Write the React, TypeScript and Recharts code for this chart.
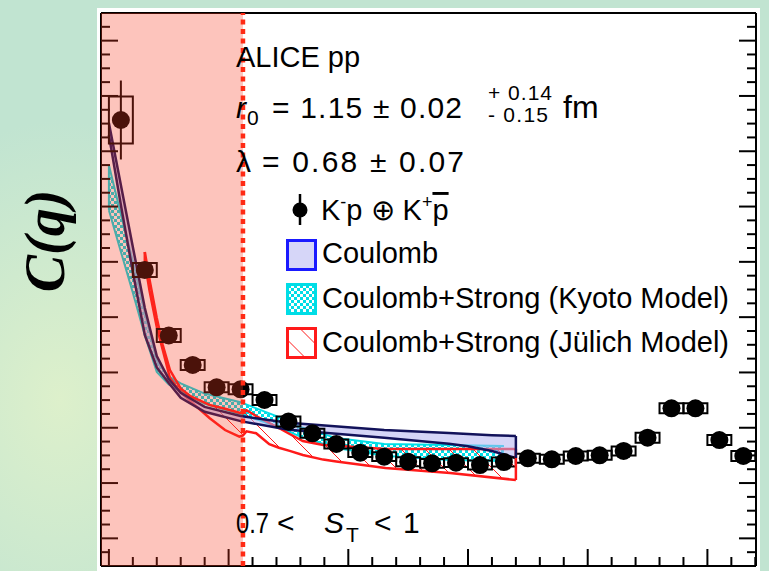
import React from "react";
import {
  ComposedChart,
  Area,
  Line,
  Scatter,
  XAxis,
  YAxis,
  ErrorBar,
  ReferenceArea,
  ReferenceLine,
} from "recharts";

// measured points, bins of 10 in q
const qBins = [5, 15, 25, 35, 45, 55, 65, 75, 85, 95, 105, 115, 125, 135, 145, 155, 165, 175, 185, 195, 205, 215, 225, 235, 245, 255, 265];
const cValues = [1.6565, 1.3853, 1.2668, 1.2135, 1.1731, 1.1695, 1.1502, 1.1113, 1.09, 1.0706, 1.0549, 1.0477, 1.0386, 1.0357, 1.0368, 1.0326, 1.038, 1.0448, 1.043, 1.0489, 1.0502, 1.058, 1.082, 1.1352, 1.1352, 1.0778, 1.0489];
const statErr = [0.0714, 0.012, 0.01, 0.008, 0.008, 0.008, 0.007, 0.007, 0.007, 0.006, 0.006, 0.006, 0.006, 0.006, 0.006, 0.006, 0.006, 0.006, 0.006, 0.006, 0.006, 0.006, 0.007, 0.008, 0.008, 0.008, 0.008];
const systErr = [0.0425, 0.0127, 0.0118, 0.009, 0.009, 0.009, 0.009, 0.009, 0.008, 0.008, 0.008, 0.008, 0.008, 0.008, 0.008, 0.008, 0.008, 0.008, 0.008, 0.008, 0.008, 0.008, 0.009, 0.009, 0.009, 0.009, 0.009];

// model bands
const coulombQ = [0, 5, 10, 15, 20, 25, 30, 40, 55, 75, 115, 142, 150, 160, 170];
const coulombHi = [1.6511, 1.539, 1.4269, 1.3165, 1.2297, 1.1882, 1.1632, 1.1377, 1.1211, 1.109, 1.0961, 1.0905, 1.0887, 1.0865, 1.0851];
const coulombLo = [1.6294, 1.5028, 1.3816, 1.2677, 1.209, 1.1809, 1.1542, 1.1288, 1.112, 1.0963, 1.0818, 1.0712, 1.0665, 1.058, 1.0453];

const kyotoQ = [0, 5, 10, 15, 20, 25, 30, 40, 55, 70, 80, 95, 115, 142, 165];
const kyotoHi = [1.5751, 1.4856, 1.4012, 1.308, 1.2216, 1.1927, 1.1802, 1.1618, 1.146, 1.1211, 1.1015, 1.0813, 1.0708, 1.0688, 1.067];
const kyotoLo = [1.4932, 1.4184, 1.344, 1.267, 1.201, 1.1784, 1.1668, 1.1433, 1.1249, 1.1028, 1.084, 1.0634, 1.0493, 1.0417, 1.0399];

const julichQ = [15, 17, 20, 22.5, 25.5, 30, 34, 42, 48.5, 54.5, 56, 57.5, 61.5, 67, 71, 75.5, 81, 89.5, 95, 115.5, 142.5, 170];
const julichHi = [1.4178, 1.3672, 1.2985, 1.2496, 1.2044, 1.1708, 1.1571, 1.1413, 1.1343, 1.127, 1.1258, 1.1316, 1.1212, 1.1086, 1.0995, 1.0887, 1.076, 1.0688, 1.0674, 1.0616, 1.0616, 1.0616];
const julichLo = [1.3997, 1.3473, 1.2822, 1.2406, 1.19, 1.1639, 1.1484, 1.1176, 1.0959, 1.0838, 1.086, 1.0936, 1.0901, 1.0703, 1.0639, 1.0581, 1.0507, 1.0424, 1.039, 1.0272, 1.0182, 1.0055];

const threshold = 56;
const xDomain = [-3.3, 270.3];
const yDomain = [0.85, 1.85];
const xTicks = [0, 10, 20, 30, 40, 50, 60, 70, 80, 90, 100, 110, 120, 130, 140, 150, 160, 170, 180, 190, 200, 210, 220, 230, 240, 250, 260, 270];
const yTicks = [0.85, 0.875, 0.9, 0.925, 0.95, 0.975, 1.0, 1.025, 1.05, 1.075, 1.1, 1.125, 1.15, 1.175, 1.2, 1.225, 1.25, 1.275, 1.3, 1.325, 1.35, 1.375, 1.4, 1.425, 1.45, 1.475, 1.5, 1.525, 1.55, 1.575, 1.6, 1.625, 1.65, 1.675, 1.7, 1.725, 1.75, 1.775, 1.8, 1.825, 1.85];

const points = qBins.map((q, i) => ({ q, c: cValues[i], stat: statErr[i] }));
const band = (qs: number[], lo: number[], hi: number[]) =>
  qs.map((q, i) => ({ q, band: [lo[i], hi[i]] }));
const edge = (q: number, lo: number, hi: number) => [
  { q, v: lo },
  { q, v: hi },
];

const coulombData = band(coulombQ, coulombLo, coulombHi);
const kyotoData = band(kyotoQ, kyotoLo, kyotoHi);
const julichData = band(julichQ, julichLo, julichHi);

const NAVY = "#12125a";
const CYAN = "#00dde6";
const RED = "#ff1a1a";

function frameTick(side: string, every: number) {
  return (props: any) => {
    const { x, y, payload } = props;
    const r = payload.value / every;
    const len = Math.abs(r - Math.round(r)) < 1e-6 ? 17 : 9;
    let x2 = x;
    let y2 = y;
    if (side === "b") y2 = y - len;
    if (side === "t") y2 = y + len;
    if (side === "l") x2 = x + len;
    if (side === "r") x2 = x - len;
    return <line x1={x} y1={y} x2={x2} y2={y2} stroke="#000" strokeWidth={2} />;
  };
}

const axisCommon = {
  allowDataOverflow: true,
  interval: 0 as const,
  tickSize: 0,
  tickMargin: 0,
  tickLine: false,
  axisLine: { stroke: "#000", strokeWidth: 2 },
};

const txt = { fontFamily: "'Liberation Sans', Arial, sans-serif", fill: "#000" };

export default function App() {
  return (
    <div
      style={{
        position: "absolute",
        left: 0,
        top: 0,
        width: 769,
        height: 571,
        overflow: "hidden",
        background:
          "radial-gradient(ellipse 200px 280px at 60px 400px, #ddf0cb 0%, #c1e4d1 100%)",
      }}
    >
      <div style={{ position: "absolute", left: 97, top: 8, width: 663, height: 563, background: "#fff" }} />
      <div style={{ position: "absolute", left: 0, top: 0 }}>
        <ComposedChart width={769} height={571} margin={{ top: 12, right: 12, bottom: 4, left: 100 }}>
          <defs>
            <pattern id="chk" width="6" height="6" patternUnits="userSpaceOnUse">
              <rect width="6" height="6" fill={CYAN} />
              <rect x="0" y="0" width="3" height="3" fill="#fff" />
              <rect x="3" y="3" width="3" height="3" fill="#fff" />
            </pattern>
            <pattern id="hat" width="24" height="24" patternUnits="userSpaceOnUse">
              <line x1="0" y1="0" x2="24" y2="24" stroke={RED} strokeWidth="1" />
            </pattern>
          </defs>
          <XAxis xAxisId="b" dataKey="q" type="number" domain={xDomain} ticks={xTicks} height={1} tick={frameTick("b", 50)} {...axisCommon} />
          <XAxis xAxisId="t" orientation="top" type="number" domain={xDomain} ticks={xTicks} height={1} tick={frameTick("t", 50)} {...axisCommon} />
          <YAxis yAxisId="l" type="number" domain={yDomain} ticks={yTicks} width={1} tick={frameTick("l", 0.1)} {...axisCommon} />
          <YAxis yAxisId="r" orientation="right" type="number" domain={yDomain} ticks={yTicks} width={1} tick={frameTick("r", 0.1)} {...axisCommon} />

          <Area
            xAxisId="b"
            yAxisId="l"
            data={kyotoData}
            dataKey="band"
            type="linear"
            stroke={CYAN}
            strokeWidth={2}
            fill="url(#chk)"
            fillOpacity={1}
            dot={false}
            activeDot={false}
            isAnimationActive={false}
          />
          <Area
            xAxisId="b"
            yAxisId="l"
            data={julichData}
            dataKey="band"
            type="linear"
            stroke={RED}
            strokeWidth={2.5}
            fill="url(#hat)"
            fillOpacity={1}
            dot={false}
            activeDot={false}
            isAnimationActive={false}
          />
          <Area
            xAxisId="b"
            yAxisId="l"
            data={coulombData}
            dataKey="band"
            type="linear"
            stroke={NAVY}
            strokeWidth={2.5}
            fill="#b2b2f0"
            fillOpacity={0.55}
            dot={false}
            activeDot={false}
            isAnimationActive={false}
          />
          <Line xAxisId="b" yAxisId="l" data={edge(170, julichLo[julichLo.length - 1], julichHi[julichHi.length - 1])} dataKey="v" stroke={RED} strokeWidth={2.5} dot={false} activeDot={false} isAnimationActive={false} />
          <Line xAxisId="b" yAxisId="l" data={edge(15, julichLo[0], julichHi[0])} dataKey="v" stroke={RED} strokeWidth={2.5} dot={false} activeDot={false} isAnimationActive={false} />
          <Line xAxisId="b" yAxisId="l" data={edge(0, kyotoLo[0], kyotoHi[0])} dataKey="v" stroke={CYAN} strokeWidth={2} dot={false} activeDot={false} isAnimationActive={false} />
          <Line xAxisId="b" yAxisId="l" data={edge(170, coulombLo[coulombLo.length - 1], coulombHi[coulombHi.length - 1])} dataKey="v" stroke={NAVY} strokeWidth={2.5} dot={false} activeDot={false} isAnimationActive={false} />

          {qBins.map((q, i) => (
            <ReferenceArea
              key={q}
              xAxisId="b"
              yAxisId="l"
              x1={q - 5}
              x2={q + 5}
              y1={cValues[i] - systErr[i]}
              y2={cValues[i] + systErr[i]}
              fill="none"
              fillOpacity={0}
              stroke="#000"
              strokeWidth={2}
              ifOverflow="visible"
            />
          ))}

          <Scatter
            xAxisId="b"
            yAxisId="l"
            data={points}
            dataKey="c"
            fill="#000"
            isAnimationActive={false}
            shape={(p: any) => <circle cx={p.cx} cy={p.cy} r={9} fill="#000" />}
          >
            <ErrorBar dataKey="stat" direction="y" width={0} stroke="#000" strokeWidth={2} />
          </Scatter>

          <ReferenceArea
            xAxisId="b"
            yAxisId="l"
            x1={xDomain[0]}
            x2={threshold}
            fill="#f83c20"
            fillOpacity={0.3}
            stroke="none"
            zIndex={3000}
          />
          <ReferenceLine
            xAxisId="b"
            yAxisId="l"
            x={threshold}
            stroke="#ff2a14"
            strokeWidth={4.5}
            strokeDasharray="5 4.5"
            zIndex={3100}
          />
        </ComposedChart>
      </div>

      <svg width={769} height={571} style={{ position: "absolute", left: 0, top: 0, pointerEvents: "none" }}>
        <defs>
          <pattern id="chkL" width="6" height="6" patternUnits="userSpaceOnUse">
            <rect width="6" height="6" fill={CYAN} />
            <rect x="0" y="0" width="3" height="3" fill="#fff" />
            <rect x="3" y="3" width="3" height="3" fill="#fff" />
          </pattern>
        </defs>
        <text
          transform="translate(64,241) rotate(-90)"
          textAnchor="middle"
          style={{ fontFamily: "'Liberation Serif', 'Times New Roman', serif", fontWeight: "bold", fontStyle: "italic", fontSize: 56 }}
          fill="#000"
        >
          C(q)
        </text>

        <text x={236} y={67} fontSize={29} style={txt}>ALICE pp</text>

        <text x={236} y={118} fontSize={30} style={txt} fontStyle="italic">r</text>
        <text x={247} y={125} fontSize={21} style={txt}>0</text>
        <text x={272} y={118} fontSize={30} style={txt} textLength={190} lengthAdjust="spacing">= 1.15 ± 0.02</text>
        <text x={488} y={100} fontSize={21} style={txt} textLength={64} lengthAdjust="spacing">+ 0.14</text>
        <text x={488} y={122} fontSize={21} style={txt} textLength={60} lengthAdjust="spacing">- 0.15</text>
        <text x={563} y={118} fontSize={32} style={txt}>fm</text>

        <text x={236} y={172} fontSize={30} style={txt}>λ</text>
        <text x={262} y={172} fontSize={30} style={txt} textLength={202} lengthAdjust="spacing">= 0.68 ± 0.07</text>

        <line x1={300} y1={194} x2={300} y2={225} stroke="#000" strokeWidth={2.5} />
        <circle cx={300} cy={210} r={7.5} fill="#000" />
        <text x={321} y={220} fontSize={29} style={txt}>
          K<tspan fontSize={18} dy={-12}>-</tspan>
          <tspan dy={12}>p ⊕ K</tspan>
          <tspan fontSize={18} dy={-12}>+</tspan>
          <tspan dy={12} textDecoration="overline">p</tspan>
        </text>

        <rect x={287.5} y={240.5} width={28} height={29} fill="#d6d6f8" stroke="#1a1aff" strokeWidth={3} />
        <text x={322} y={263} fontSize={29} style={txt}>Coulomb</text>
        <rect x={287.5} y={284.5} width={28} height={29} fill="url(#chkL)" stroke={CYAN} strokeWidth={3} />
        <text x={322} y={307.5} fontSize={29} style={txt}>Coulomb+Strong (Kyoto Model)</text>
        <rect x={287.5} y={328.5} width={28} height={29} fill="#fff" stroke={RED} strokeWidth={3} />
        <line x1={287.5} y1={340} x2={305} y2={357.5} stroke={RED} strokeWidth={1} />
        <line x1={300} y1={328.5} x2={315.5} y2={344} stroke={RED} strokeWidth={1} />
        <text x={322} y={352} fontSize={29} style={txt}>Coulomb+Strong (Jülich Model)</text>

        <text x={236} y={533} fontSize={30} style={txt} textLength={33} lengthAdjust="spacingAndGlyphs">0.7</text>
        <text x={277} y={533} fontSize={30} style={txt}>&lt;</text>
        <text x={324} y={533} fontSize={30} style={txt} fontStyle="italic">S</text>
        <text x={346} y={542} fontSize={21} style={txt}>T</text>
        <text x={374} y={533} fontSize={30} style={txt}>&lt;</text>
        <text x={403} y={533} fontSize={30} style={txt}>1</text>
      </svg>
    </div>
  );
}
